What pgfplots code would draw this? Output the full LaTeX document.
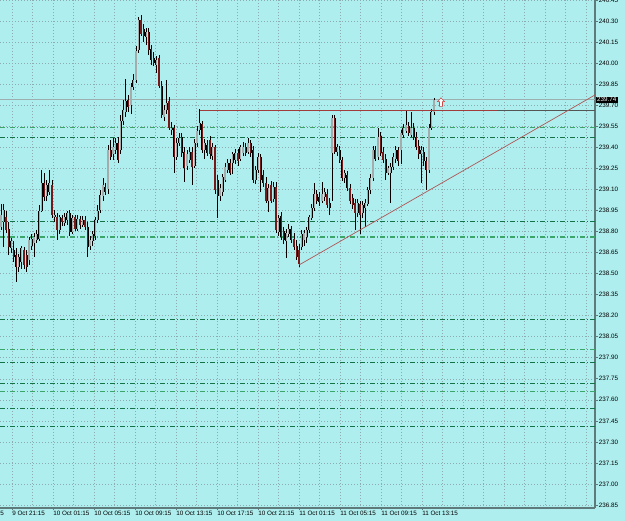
\documentclass[border=0pt]{standalone}
\usepackage{fontspec}
\setmainfont{Liberation Sans}
\usepackage{pgfplots}
\usepackage{pgfplotstable}
\pgfplotsset{compat=1.18}
\definecolor{bg}{RGB}{175,238,238}
\definecolor{gridc}{RGB}{140,172,176}
\definecolor{axisc}{RGB}{95,122,122}
\definecolor{gdark}{RGB}{20,115,70}
\definecolor{glight}{RGB}{60,165,105}
\definecolor{bull}{RGB}{165,172,172}
\definecolor{bear}{RGB}{120,25,25}
\definecolor{resline}{RGB}{160,60,60}
\definecolor{resgray}{RGB}{85,85,85}
\definecolor{trend}{RGB}{175,85,85}
\definecolor{bidc}{RGB}{155,175,175}
\definecolor{arrowc}{RGB}{200,70,70}

\pgfplotstableread{
x o h l c
1.0 238.83 239.00 238.81 238.92
3.5 238.87 239.00 238.69 238.95
6.1 238.90 238.95 238.79 238.81
8.6 238.82 238.87 238.63 238.69
11.2 238.68 238.75 238.65 238.73
13.7 238.67 238.73 238.58 238.62
16.3 238.63 238.68 238.44 238.55
18.8 238.55 238.64 238.51 238.62
21.4 238.58 238.70 238.53 238.68
23.9 238.67 238.69 238.53 238.56
26.5 238.63 238.67 238.51 238.55
29.0 238.60 238.76 238.56 238.74
31.6 238.70 238.78 238.67 238.75
34.1 238.72 238.79 238.62 238.76
36.7 238.74 238.81 238.72 238.78
39.2 238.75 238.99 238.73 238.95
41.8 238.95 239.24 238.94 239.15
44.3 239.15 239.22 239.02 239.05
46.8 239.05 239.17 239.02 239.13
49.4 239.08 239.24 239.06 239.15
51.9 239.13 239.17 238.90 238.92
54.5 238.90 238.95 238.87 238.92
57.0 238.90 238.93 238.74 238.81
59.6 238.81 238.92 238.78 238.90
62.1 238.90 238.92 238.84 238.87
64.7 238.86 238.93 238.84 238.90
67.2 238.88 238.95 238.85 238.93
69.8 238.93 238.95 238.77 238.80
72.3 238.80 238.92 238.78 238.90
74.9 238.90 238.92 238.80 238.82
77.4 238.82 238.92 238.80 238.89
80.0 238.89 238.91 238.82 238.85
82.5 238.85 238.91 238.83 238.88
85.1 238.88 238.91 238.81 238.83
87.6 238.83 238.87 238.62 238.69
90.1 238.70 238.77 238.67 238.74
92.7 238.73 238.80 238.70 238.78
95.2 238.77 238.90 238.74 238.88
97.8 238.88 238.99 238.86 238.95
100.3 238.95 239.10 238.93 239.06
102.9 239.05 239.18 239.02 239.13
105.4 239.12 239.15 239.06 239.08
108.0 239.10 239.42 239.07 239.38
110.5 239.38 239.45 239.31 239.33
113.1 239.35 239.47 239.31 239.40
115.6 239.38 239.47 239.35 239.43
118.2 239.43 239.47 239.29 239.31
120.7 239.38 239.63 239.35 239.59
123.3 239.59 239.74 239.56 239.67
125.8 239.65 239.89 239.62 239.73
128.4 239.74 239.77 239.65 239.69
130.9 239.70 239.86 239.64 239.83
133.4 239.83 239.92 239.81 239.88
136.0 239.88 240.12 239.86 240.09
138.5 240.09 240.33 240.07 240.31
141.1 240.31 240.34 240.19 240.21
143.6 240.24 240.28 240.15 240.19
146.2 240.19 240.25 240.13 240.22
148.7 240.22 240.25 240.06 240.09
151.3 240.10 240.13 239.99 240.02
153.8 240.04 240.08 239.98 240.00
156.4 239.99 240.05 239.93 240.02
158.9 240.04 240.06 239.82 239.84
161.5 239.84 239.87 239.61 239.63
164.0 239.62 239.70 239.59 239.67
166.6 239.67 239.88 239.64 239.72
169.1 239.73 239.76 239.52 239.54
171.6 239.52 239.58 239.49 239.54
174.2 239.54 239.56 239.22 239.33
176.7 239.33 239.47 239.31 239.43
179.3 239.43 239.50 239.41 239.47
181.8 239.47 239.50 239.33 239.36
184.4 239.37 239.40 239.15 239.25
186.9 239.27 239.38 239.24 239.35
189.5 239.31 239.40 239.29 239.37
192.0 239.37 239.40 239.13 239.26
194.6 239.27 239.46 239.25 239.43
197.1 239.43 239.55 239.40 239.52
199.7 239.52 239.67 239.49 239.57
202.2 239.57 239.59 239.36 239.38
204.8 239.38 239.46 239.32 239.43
207.3 239.42 239.45 239.34 239.36
209.9 239.45 239.48 239.32 239.35
212.4 239.34 239.43 239.31 239.40
214.9 239.40 239.42 239.07 239.10
217.5 239.17 239.20 238.90 239.05
220.0 239.05 239.14 239.02 239.11
222.6 239.08 239.21 239.05 239.19
225.1 239.17 239.29 239.15 239.26
227.7 239.24 239.32 239.22 239.29
230.2 239.29 239.32 239.20 239.22
232.8 239.29 239.37 239.21 239.35
235.3 239.31 239.39 239.28 239.36
237.9 239.36 239.39 239.27 239.30
240.4 239.32 239.42 239.30 239.40
243.0 239.36 239.44 239.34 239.40
245.5 239.40 239.43 239.34 239.36
248.1 239.37 239.47 239.35 239.43
250.6 239.43 239.45 239.33 239.36
253.2 239.38 239.41 239.15 239.17
255.7 239.17 239.27 239.14 239.24
258.2 239.24 239.36 239.22 239.33
260.8 239.33 239.35 239.08 239.17
263.3 239.20 239.24 239.12 239.15
265.9 239.15 239.19 239.00 239.02
268.4 239.02 239.14 238.94 239.11
271.0 239.13 239.16 239.00 239.02
273.5 239.03 239.15 239.01 239.12
276.1 239.12 239.15 238.79 238.81
278.6 238.80 238.92 238.77 238.90
281.2 238.91 238.94 238.74 238.76
283.7 238.80 238.83 238.71 238.74
286.3 238.73 238.82 238.61 238.79
288.8 238.78 238.85 238.76 238.82
291.4 238.82 238.84 238.72 238.74
293.9 238.75 238.79 238.67 238.69
296.5 238.70 238.74 238.60 238.62
299.0 238.67 238.71 238.55 238.57
301.5 238.69 238.81 238.67 238.78
304.1 238.74 238.81 238.70 238.79
306.6 238.76 238.83 238.72 238.81
309.2 238.81 238.92 238.79 238.90
311.7 238.90 239.00 238.88 238.97
314.3 238.97 239.15 238.95 239.07
316.8 239.07 239.10 239.00 239.02
319.4 239.05 239.08 238.98 239.01
321.9 239.02 239.15 239.00 239.07
324.5 239.05 239.11 239.02 239.08
327.0 239.07 239.10 238.97 238.99
329.6 239.00 239.04 238.92 238.97
332.1 239.36 239.63 239.02 239.61
334.7 239.61 239.63 239.35 239.37
337.2 239.37 239.42 239.34 239.40
339.8 239.38 239.41 239.29 239.31
342.3 239.31 239.33 239.16 239.18
344.8 239.18 239.24 239.15 239.22
347.4 239.20 239.23 239.09 239.11
349.9 239.11 239.14 239.00 239.02
352.5 239.04 239.07 238.96 238.99
355.0 239.00 239.03 238.81 238.93
357.6 238.93 239.03 238.90 239.00
360.1 239.00 239.02 238.78 238.92
362.7 238.93 239.02 238.90 238.99
365.2 238.97 239.03 238.83 239.00
367.8 239.00 239.12 238.98 239.10
370.3 239.10 239.21 239.07 239.18
372.9 239.18 239.41 239.16 239.38
375.4 239.38 239.41 239.30 239.32
378.0 239.33 239.54 239.31 239.47
380.5 239.48 239.51 239.34 239.36
383.1 239.37 239.40 239.29 239.31
385.6 239.32 239.35 239.17 239.22
388.1 239.22 239.27 239.20 239.25
390.7 239.22 239.29 239.00 239.26
393.2 239.26 239.36 239.24 239.33
395.8 239.32 239.41 239.29 239.38
398.3 239.38 239.40 239.27 239.30
400.9 239.38 239.52 239.28 239.50
403.4 239.49 239.57 239.47 239.54
406.0 239.52 239.67 239.50 239.56
408.5 239.55 239.58 239.48 239.50
411.1 239.49 239.65 239.47 239.54
413.6 239.54 239.57 239.45 239.47
416.2 239.47 239.51 239.38 239.40
418.7 239.41 239.45 239.32 239.35
421.3 239.35 239.41 239.15 239.38
423.8 239.37 239.40 239.27 239.30
426.4 239.30 239.33 239.10 239.24
428.9 239.24 239.57 239.22 239.54
431.4 239.54 239.67 239.52 239.65
434.0 239.65 239.75 239.63 239.74
}\candles

\pgfdeclareplotmark{uparr}{%
  \pgfpathmoveto{\pgfqpoint{0pt}{4.5pt}}%
  \pgfpathlineto{\pgfqpoint{3.5pt}{0.8pt}}%
  \pgfpathlineto{\pgfqpoint{1.5pt}{0.8pt}}%
  \pgfpathlineto{\pgfqpoint{1.5pt}{-4pt}}%
  \pgfpathlineto{\pgfqpoint{-1.5pt}{-4pt}}%
  \pgfpathlineto{\pgfqpoint{-1.5pt}{0.8pt}}%
  \pgfpathlineto{\pgfqpoint{-3.5pt}{0.8pt}}%
  \pgfpathclose
  \pgfusepath{fill,stroke}}

\newcommand{\tfont}{\fontsize{6.3}{7}\selectfont}

\begin{document}
\begin{tikzpicture}
\useasboundingbox (0,0) rectangle (625pt,521pt);
\fill[bg] (0,0) rectangle (625pt,521pt);
\begin{axis}[
  at={(0pt,13pt)}, anchor=south west,
  width=595pt, height=508pt, scale only axis,
  xmin=0, xmax=595, ymin=236.829, ymax=240.45,
  clip=false,
  axis x line*=bottom, axis y line*=right,
  axis line style={draw=axisc, line width=1.2pt},
  tick align=outside, major tick length=2.5pt, minor tick length=0pt,
  tick style={draw=axisc, line width=0.6pt},
  ytick={236.85,237.00,237.15,237.30,237.45,237.60,237.75,237.90,238.05,238.20,238.35,238.50,238.65,238.80,238.95,239.10,239.25,239.40,239.55,239.70,239.85,240.00,240.15,240.30,240.45},
  yticklabel={\pgfmathprintnumber[fixed,fixed zerofill,precision=2,assume math mode=true]{\tick}},
  yticklabel style={font=\tfont, anchor=west, inner sep=0.8pt, xshift=0.3pt, text=black},
  xtick={12,53,94,135,176,217,258,299,340,381,422},
  xticklabels={9 Oct 21:15,10 Oct 01:15,10 Oct 05:15,10 Oct 09:15,10 Oct 13:15,10 Oct 17:15,10 Oct 21:15,11 Oct 01:15,11 Oct 05:15,11 Oct 09:15,11 Oct 13:15},
  xticklabel style={font=\tfont, anchor=north west, inner sep=0.6pt, xshift=-0.5pt, text=black},
  minor xtick={32.5,73.5,114.5,155.5,196.5,237.5,278.5,319.5,360.5,401.5,442.5,463,483.5,504,524.5,545,565.5,586},
  xmajorgrids, xminorgrids, ymajorgrids,
  major grid style={draw=gridc, line width=0.5pt, dash pattern=on 1pt off 2pt},
  minor grid style={draw=gridc, line width=0.5pt, dash pattern=on 1pt off 2pt},
]
% support / resistance levels
\addplot[gdark, line width=0.8pt, dash pattern=on 5pt off 2pt on 1pt off 2pt] coordinates {(0,239.47) (595,239.47)};
\addplot[gdark, line width=0.8pt, dash pattern=on 5pt off 2pt on 1pt off 2pt] coordinates {(0,238.87) (595,238.87)};
\addplot[gdark, line width=0.8pt, dash pattern=on 5pt off 2pt on 1pt off 2pt] coordinates {(0,238.17) (595,238.17)};
\addplot[gdark, line width=0.8pt, dash pattern=on 5pt off 2pt on 1pt off 2pt] coordinates {(0,237.87) (595,237.87)};
\addplot[gdark, line width=0.8pt, dash pattern=on 5pt off 2pt on 1pt off 2pt] coordinates {(0,237.72) (595,237.72)};
\addplot[gdark, line width=0.8pt, dash pattern=on 5pt off 2pt on 1pt off 2pt] coordinates {(0,237.54) (595,237.54)};
\addplot[gdark, line width=0.8pt, dash pattern=on 5pt off 2pt on 1pt off 2pt] coordinates {(0,237.41) (595,237.41)};
\addplot[glight, line width=1.4pt, dash pattern=on 5pt off 2pt on 1pt off 2pt] coordinates {(0,239.54) (595,239.54)};
\addplot[glight, line width=1.4pt, dash pattern=on 5pt off 2pt on 1pt off 2pt] coordinates {(0,238.76) (595,238.76)};
\addplot[glight, line width=1.4pt, dash pattern=on 5pt off 2pt on 1pt off 2pt] coordinates {(0,237.96) (595,237.96)};
\addplot[glight, line width=1.4pt, dash pattern=on 5pt off 2pt on 1pt off 2pt] coordinates {(0,237.66) (595,237.66)};
% bid line
\addplot[bidc, line width=0.6pt] coordinates {(0,239.74) (595,239.74)};
% wicks
\addplot[draw=none, mark=none, error bars/.cd, y dir=both, y explicit, error mark=none,
  error bar style={draw=black, solid, line width=0.7pt}]
  table[x=x, y expr={(\thisrow{h}+\thisrow{l})/2}, y error expr={(\thisrow{h}-\thisrow{l})/2}] {\candles};
% bull bodies
\addplot[draw=none, mark=none, restrict expr to domain={\thisrow{c}-\thisrow{o}}{0:10},
  error bars/.cd, y dir=both, y explicit, error mark=none,
  error bar style={draw=black, solid, line width=2.0pt}]
  table[x=x, y expr={(\thisrow{o}+\thisrow{c})/2}, y error expr={abs(\thisrow{c}-\thisrow{o})/2}] {\candles};
\addplot[draw=none, mark=none, restrict expr to domain={\thisrow{c}-\thisrow{o}}{0:10},
  error bars/.cd, y dir=both, y explicit, error mark=none,
  error bar style={draw=bull, solid, line width=1.3pt}]
  table[x=x, y expr={(\thisrow{o}+\thisrow{c})/2}, y error expr={abs(\thisrow{c}-\thisrow{o})/2}] {\candles};
% bear bodies
\addplot[draw=none, mark=none, restrict expr to domain={\thisrow{o}-\thisrow{c}}{0.0001:10},
  error bars/.cd, y dir=both, y explicit, error mark=none,
  error bar style={draw=black, solid, line width=2.0pt}]
  table[x=x, y expr={(\thisrow{o}+\thisrow{c})/2}, y error expr={abs(\thisrow{c}-\thisrow{o})/2}] {\candles};
\addplot[draw=none, mark=none, restrict expr to domain={\thisrow{o}-\thisrow{c}}{0.0001:10},
  error bars/.cd, y dir=both, y explicit, error mark=none,
  error bar style={draw=bear, solid, line width=1.3pt}]
  table[x=x, y expr={(\thisrow{o}+\thisrow{c})/2}, y error expr={abs(\thisrow{c}-\thisrow{o})/2}] {\candles};
% horizontal resistance
\addplot[resline, line width=0.8pt] coordinates {(199.7,239.666) (497,239.666)};
\addplot[resgray, line width=0.8pt] coordinates {(497,239.666) (595,239.666)};
% rising trendline
\addplot[trend, line width=0.7pt] coordinates {(299.0,238.561) (595,239.773)};
% arrow marker
\addplot[only marks, mark=uparr, mark options={draw=arrowc, fill=white, line width=0.6pt, solid}] coordinates {(441,239.72)};
% price label
\node[fill=black, text=white, font=\tfont, inner xsep=1.3pt, inner ysep=0.8pt, anchor=west] at (axis cs:595.5,239.74) {239.74};
\end{axis}
\node[font=\tfont, anchor=north west, inner sep=0.6pt, text=black] at (-29.5pt,10.8pt) {9 Oct 17:15};
\end{tikzpicture}
\end{document}
